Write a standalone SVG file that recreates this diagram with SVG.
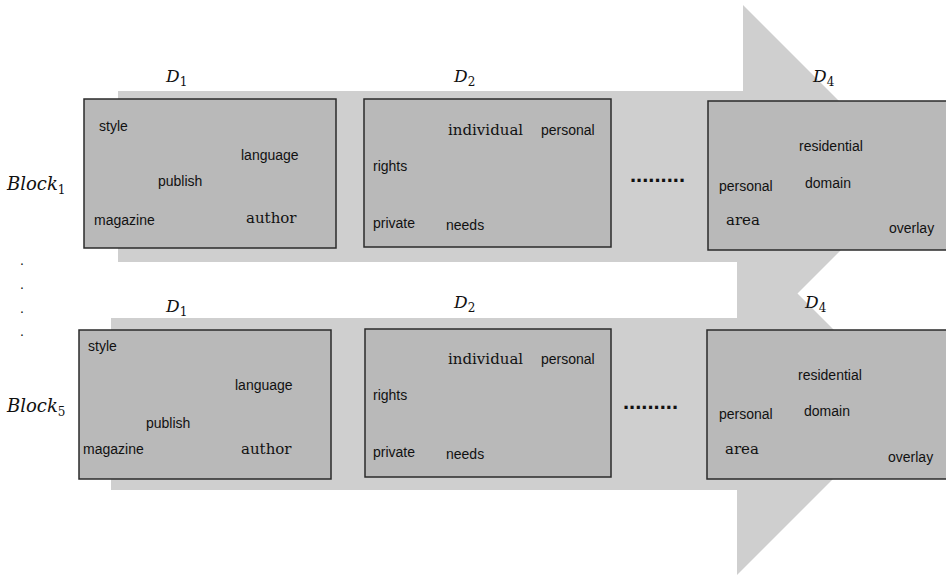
<svg xmlns="http://www.w3.org/2000/svg" width="946" height="575" viewBox="0 0 946 575">
<style>
.arrow{fill:#cfcfcf}
.box{fill:#b9b9b9;stroke:#2b2b2b;stroke-width:1.5}
.w{font-family:"Liberation Sans",Arial,sans-serif;font-size:14px;fill:#111}
.s{font-family:"DejaVu Serif","Liberation Serif",serif;font-size:15px;fill:#111}
.m{font-family:"DejaVu Serif","Liberation Serif",serif;font-style:italic;font-size:17px;fill:#111}
.b{font-size:18px}
.sub{font-style:normal;font-size:12px}
.dots{font-family:"Liberation Sans",Arial,sans-serif;font-size:22px;font-weight:bold;fill:#111}
</style>
<rect width="946" height="575" fill="#fff"/>
<g id="arrows">
<polygon class="arrow" points="118,91 743,91 743,5 914.5,176.5 743,348 743,262 118,262"/>
<polygon class="arrow" points="111,318 737,318 737,233 908,404 737,575 737,490 111,490"/>
</g>
<g id="labels">
<text class="m" x="166" y="82">D<tspan class="sub" dy="4">1</tspan></text>
<text class="m" x="454" y="82">D<tspan class="sub" dy="4">2</tspan></text>
<text class="m" x="813" y="82">D<tspan class="sub" dy="4">4</tspan></text>
<text class="m" x="166" y="312">D<tspan class="sub" dy="4">1</tspan></text>
<text class="m" x="454" y="308">D<tspan class="sub" dy="4">2</tspan></text>
<text class="m" x="805" y="308">D<tspan class="sub" dy="4">4</tspan></text>
<text class="m b" x="7" y="190">Block<tspan class="sub" dy="4">1</tspan></text>
<text class="m b" x="7" y="412">Block<tspan class="sub" dy="4">5</tspan></text>
<text class="w" x="20" y="265">.</text>
<text class="w" x="20" y="289">.</text>
<text class="w" x="20" y="313">.</text>
<text class="w" x="20" y="336">.</text>
</g>
<g id="b1d1">
<rect class="box" x="84" y="99" width="252" height="149"/>
<text class="w" x="99" y="131">style</text>
<text class="w" x="241" y="160">language</text>
<text class="w" x="158" y="186">publish</text>
<text class="w" x="94" y="225">magazine</text>
<text class="s" x="246" y="223">author</text>
</g>
<g id="b1d2">
<rect class="box" x="364" y="99" width="247" height="148"/>
<text class="s" x="448" y="135">individual</text>
<text class="w" x="541" y="135">personal</text>
<text class="w" x="373" y="171">rights</text>
<text class="w" x="373" y="228">private</text>
<text class="w" x="446" y="230">needs</text>
</g>
<text id="b1dots" class="dots" x="630" y="182">.........</text>
<g id="b1d4">
<rect class="box" x="708" y="101" width="250" height="149"/>
<text class="w" x="799" y="151">residential</text>
<text class="w" x="719" y="191">personal</text>
<text class="w" x="805" y="188">domain</text>
<text class="s" x="726" y="225">area</text>
<text class="w" x="889" y="233">overlay</text>
</g>
<g id="b5d1">
<rect class="box" x="79" y="330" width="252" height="149"/>
<text class="w" x="88" y="351">style</text>
<text class="w" x="235" y="390">language</text>
<text class="w" x="146" y="428">publish</text>
<text class="w" x="83" y="454">magazine</text>
<text class="s" x="241" y="454">author</text>
</g>
<g id="b5d2">
<rect class="box" x="365" y="329" width="246" height="148"/>
<text class="s" x="448" y="364">individual</text>
<text class="w" x="541" y="364">personal</text>
<text class="w" x="373" y="400">rights</text>
<text class="w" x="373" y="457">private</text>
<text class="w" x="446" y="459">needs</text>
</g>
<text id="b5dots" class="dots" x="623" y="409">.........</text>
<g id="b5d4">
<rect class="box" x="707" y="330" width="250" height="149"/>
<text class="w" x="798" y="380">residential</text>
<text class="w" x="719" y="419">personal</text>
<text class="w" x="804" y="416">domain</text>
<text class="s" x="725" y="454">area</text>
<text class="w" x="888" y="462">overlay</text>
</g>
</svg>
